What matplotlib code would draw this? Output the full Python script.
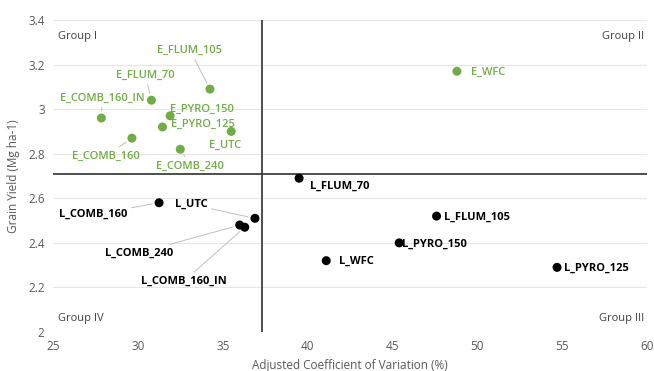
import matplotlib
matplotlib.use("Agg")
import matplotlib.pyplot as plt

plt.rcParams['font.family'] = ['Open Sans', 'DejaVu Sans']

# Data
e_names = ["E_FLUM_105", "E_FLUM_70", "E_COMB_160_IN", "E_PYRO_150", "E_PYRO_125",
           "E_COMB_160", "E_UTC", "E_COMB_240", "E_WFC"]
e_cv = [34.25, 30.8, 27.85, 31.9, 31.45, 29.65, 35.5, 32.5, 48.8]
e_yield = [3.09, 3.04, 2.96, 2.97, 2.92, 2.87, 2.90, 2.82, 3.17]

l_names = ["L_FLUM_70", "L_COMB_160", "L_UTC", "L_COMB_240", "L_COMB_160_IN",
           "L_WFC", "L_FLUM_105", "L_PYRO_150", "L_PYRO_125"]
l_cv = [39.5, 31.25, 36.9, 36.0, 36.3, 41.1, 47.6, 45.4, 54.7]
l_yield = [2.69, 2.58, 2.51, 2.48, 2.47, 2.32, 2.52, 2.40, 2.29]

cv_threshold = 37.3
yield_threshold = 2.71

x_ticks = [25, 30, 35, 40, 45, 50, 55, 60]
y_ticks = [2, 2.2, 2.4, 2.6, 2.8, 3, 3.2, 3.4]
y_ticklabels = ["2", "2.2", "2.4", "2.6", "2.8", "3", "3.2", "3.4"]

# label offsets in pixels (dx, dy) and whether a leader line is drawn
e_offsets = {
    "E_FLUM_105": (-20, 39, True), "E_FLUM_70": (-6, 25, True),
    "E_COMB_160_IN": (1, 20, True), "E_PYRO_150": (32, 6, False),
    "E_PYRO_125": (40, 3, False), "E_COMB_160": (-26, -18, True),
    "E_UTC": (-6, -14, False), "E_COMB_240": (10, -17, True),
    "E_WFC": (31, -1, False),
}
l_offsets = {
    "L_FLUM_70": (41, -8, True), "L_COMB_160": (-66, -12, True),
    "L_UTC": (-64, 14, True), "L_COMB_240": (-101, -28, True),
    "L_COMB_160_IN": (-61, -54, True), "L_WFC": (30, -1, False),
    "L_FLUM_105": (40, -1, False), "L_PYRO_150": (35, -1, False),
    "L_PYRO_125": (39, -1, False),
}

green = "#70AD47"
grey = "#595959"

fig = plt.figure(figsize=(6.54, 3.71), dpi=100)
ax = fig.add_axes([53/654, 1-332/371, (647-53)/654, (332-20)/371])

ax.set_xlim(25, 60)
ax.set_ylim(2, 3.4)
ax.set_xticks(x_ticks)
ax.set_yticks(y_ticks)
ax.set_yticklabels(y_ticklabels)
ax.grid(True, axis='y', color='#E6E6E6', lw=0.8)
ax.set_axisbelow(True)
for s in ax.spines.values():
    s.set_visible(False)
ax.tick_params(length=0, labelsize=8.5, labelcolor=grey, pad=6)

ax.axvline(cv_threshold, color='#404040', lw=1.3)
ax.axhline(yield_threshold, color='#404040', lw=1.3)

ax.scatter(e_cv, e_yield, s=42, color=green, zorder=3, edgecolors='none')
ax.scatter(l_cv, l_yield, s=42, color='black', zorder=3, edgecolors='none')

def label(names, xs, ys, offs, color, weight):
    for n, x, y in zip(names, xs, ys):
        dx, dy, lead = offs[n]
        ap = dict(arrowstyle='-', color='#BFBFBF', lw=0.7, shrinkA=1, shrinkB=5) if lead else None
        ax.annotate(n, (x, y), xytext=(dx, dy), textcoords='offset pixels',
                    ha='center', va='center', fontsize=8, color=color,
                    fontweight=weight, arrowprops=ap, zorder=4)

label(e_names, e_cv, e_yield, e_offsets, green, 'semibold')
label(l_names, l_cv, l_yield, l_offsets, 'black', 'bold')

gk = dict(fontsize=8, color='#404040')
ax.text(0.008, 0.965, "Group I", transform=ax.transAxes, ha='left', va='top', **gk)
ax.text(0.995, 0.965, "Group II", transform=ax.transAxes, ha='right', va='top', **gk)
ax.text(0.995, 0.025, "Group III", transform=ax.transAxes, ha='right', va='bottom', **gk)
ax.text(0.008, 0.025, "Group IV", transform=ax.transAxes, ha='left', va='bottom', **gk)

ax.set_xlabel("Adjusted Coefficient of Variation (%)", fontsize=8.5, color=grey, labelpad=4)
ax.set_ylabel("Grain Yield (Mg ha-1)", fontsize=8.5, color=grey, labelpad=6)

fig.savefig("out.png", dpi=100)
